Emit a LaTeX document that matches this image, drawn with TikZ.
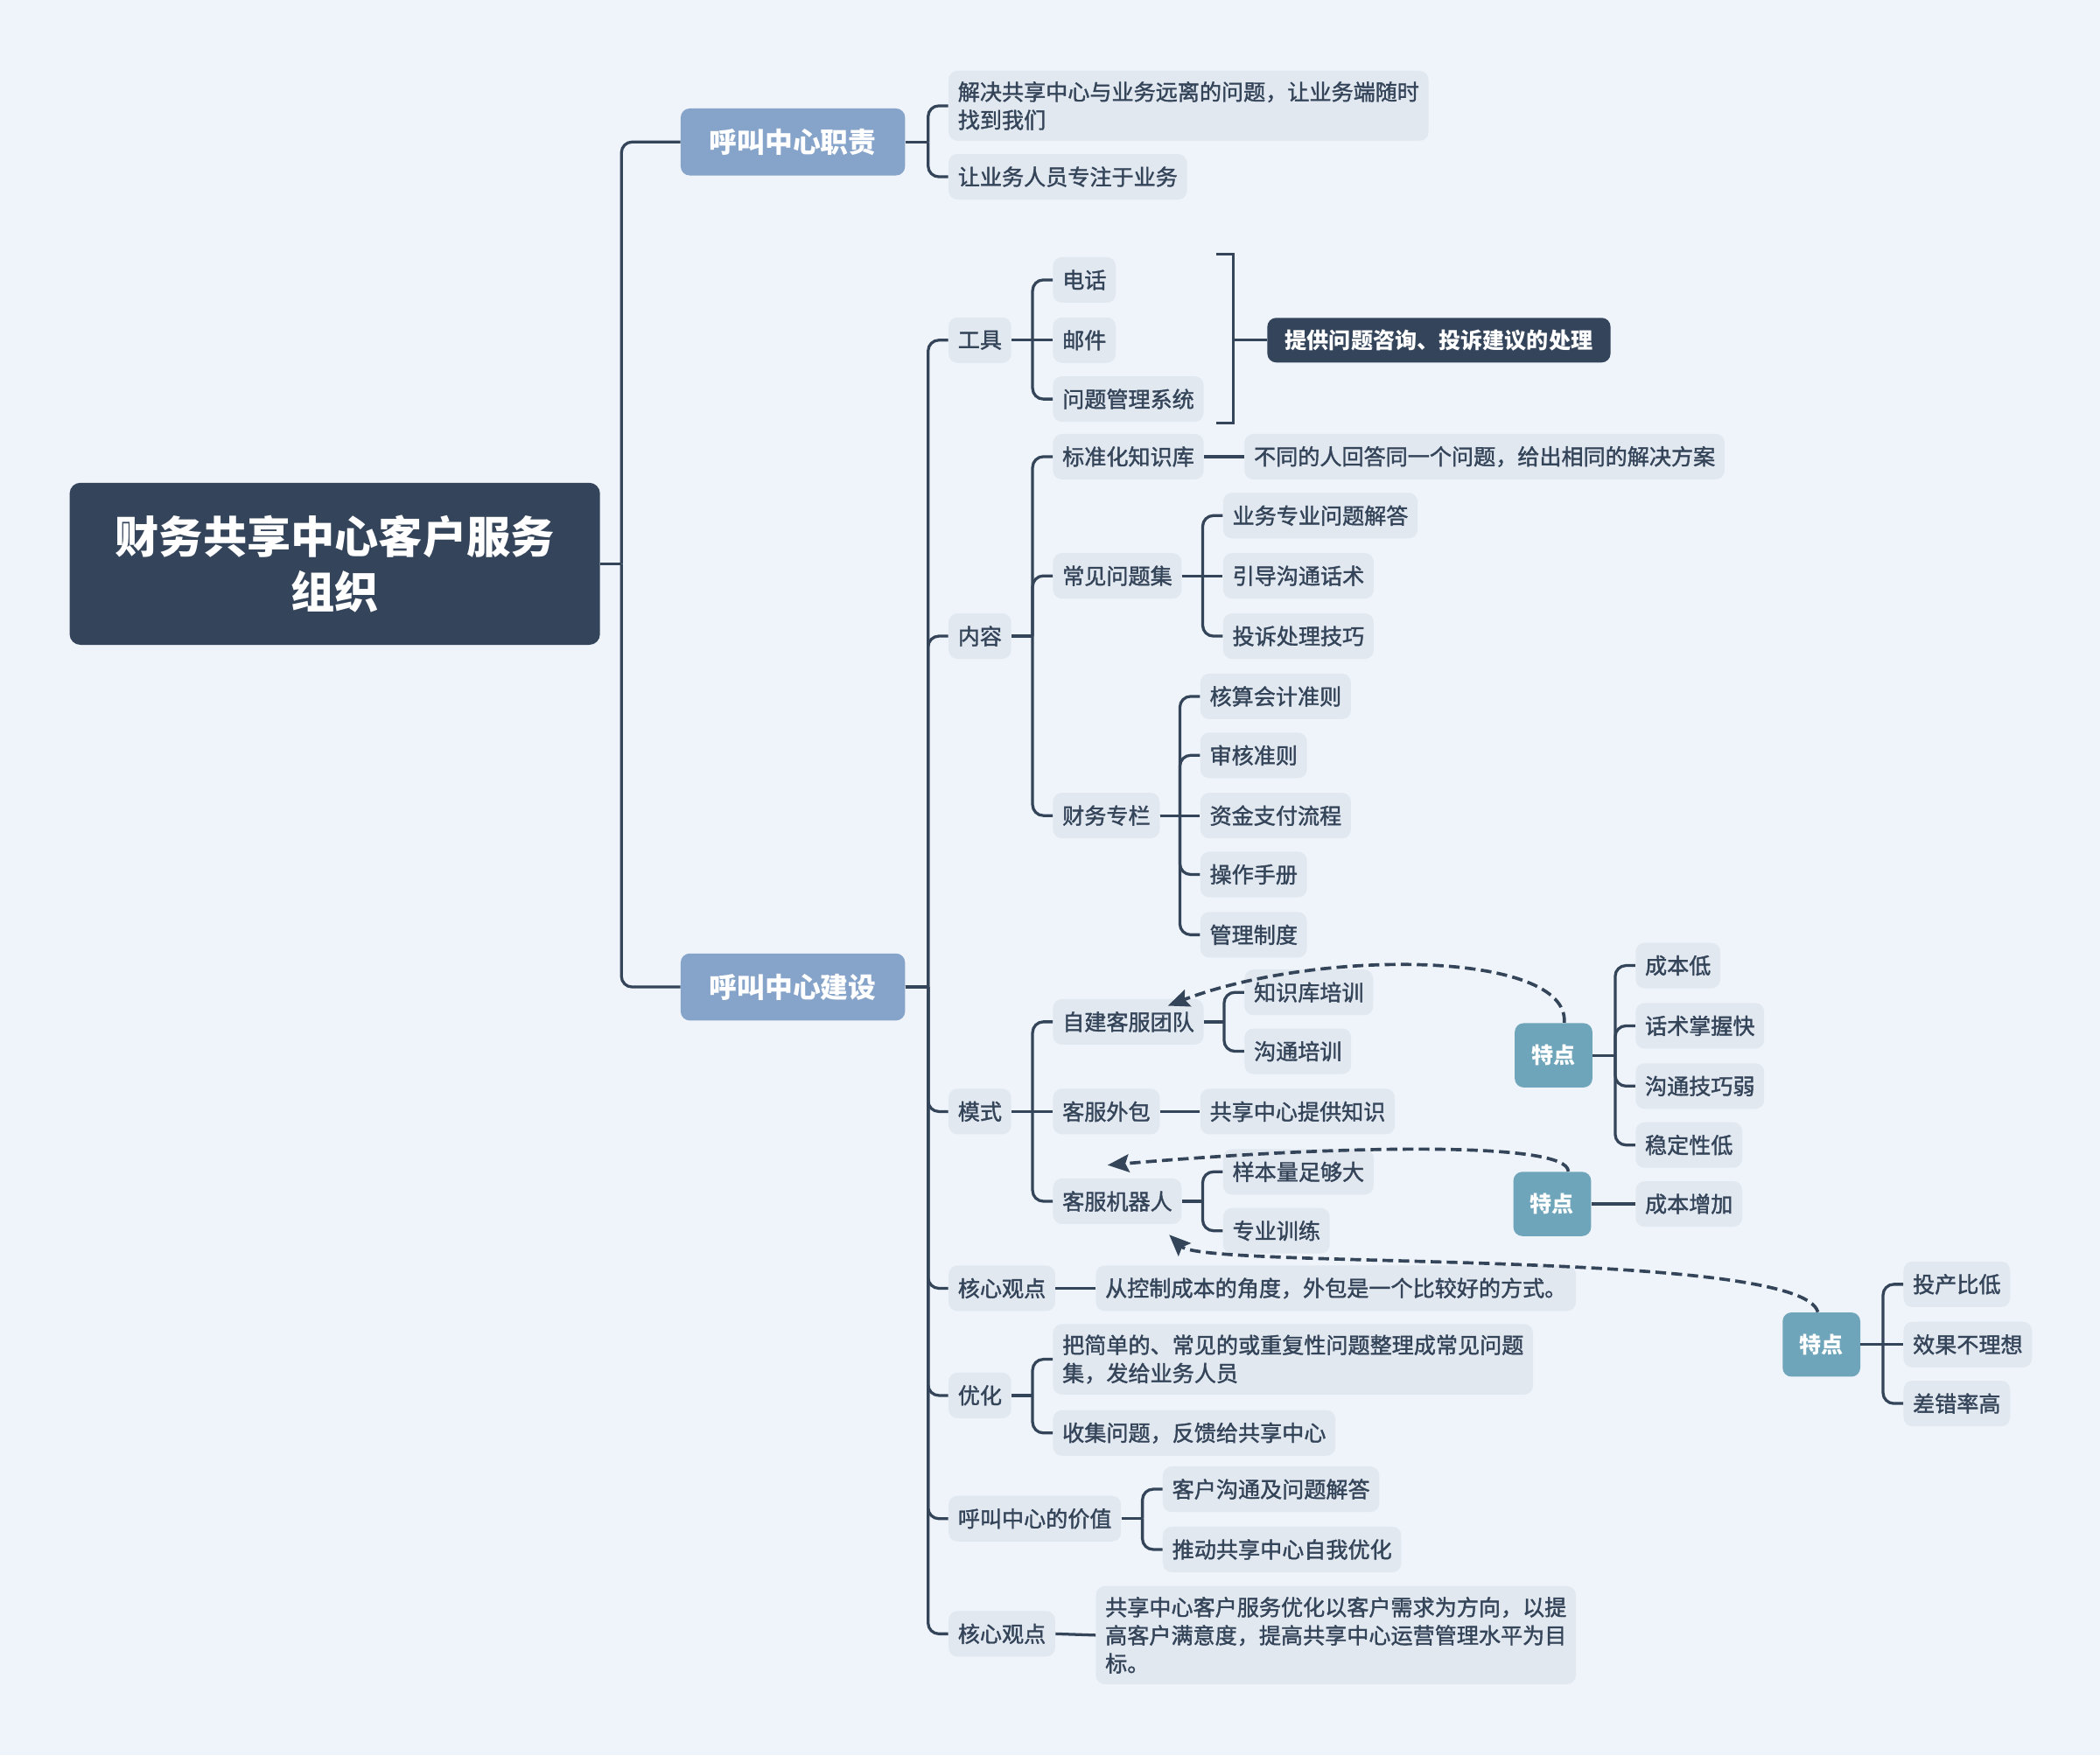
\documentclass[tikz,border=0pt]{standalone}
\usepackage{fontspec}
\setmainfont{Noto Sans CJK SC}
\newfontfamily\medfont{Noto Sans CJK SC}[RawFeature={embolden=1.5}]
\usetikzlibrary{calc,arrows.meta}
\definecolor{bgc}{HTML}{EEF4FA}
\definecolor{boxc}{HTML}{E2E8F0}
\definecolor{linec}{HTML}{344459}
\definecolor{rootc}{HTML}{34445A}
\definecolor{lvone}{HTML}{86A3C9}
\definecolor{tealc}{HTML}{6FA5BA}
\newcommand\mylink[3][15]{%
  \draw[conn] (#2.east) -- ($(#2.east -| #3.west)+(-#1,0)$);
  \draw[conn,rounded corners=6pt] ($(#2.east -| #3.west)+(-#1,0)$) |- (#3.west);}
\newcommand\mystraight[2]{\draw[conn] (#1.east) -- (#2.west);}
\begin{document}
\begin{tikzpicture}[x=0.75pt,y=-0.75pt,
  conn/.style={draw=linec,line width=1.6pt},
  leaf/.style={fill=boxc,rounded corners=5pt,text=linec,anchor=west,
    inner xsep=5.25pt,inner ysep=6pt,minimum height=25.5pt,align=left,
    font=\medfont\fontsize{12.3}{15.75}\selectfont},
  lvl/.style={fill=lvone,rounded corners=5pt,text=white,anchor=west,
    inner xsep=16pt,minimum height=37.5pt,font=\fontsize{15.6}{19}\selectfont\bfseries},
  rootbox/.style={fill=rootc,rounded corners=6pt,text=white,align=center,
    minimum width=297pt,minimum height=90.75pt,font=\fontsize{24.6}{30.75}\selectfont\bfseries},
  feat/.style={fill=tealc,rounded corners=5pt,text=white,minimum width=43.5pt,
    minimum height=36pt,inner sep=0pt,font=\fontsize{12.3}{15}\selectfont\bfseries},
  summ/.style={fill=rootc,rounded corners=5pt,text=white,anchor=west,
    inner xsep=10pt,minimum height=25pt,font=\fontsize{12.3}{15}\selectfont\bfseries},
  rel/.style={draw=linec,line width=1.8pt,dash pattern=on 6pt off 3pt,
    -{Stealth[length=12pt,width=10pt,inset=2pt]}}]
\fill[bgc] (0,0) rectangle (1568,1310.6);
\useasboundingbox (0,0) rectangle (1568,1310.6);

\node[rootbox] (root) at (250,421) {财务共享中心客户服务\\组织};
\node[lvl] (duty) at (508,106) {呼叫中心职责};
\node[lvl] (build) at (508,737) {呼叫中心建设};
\mylink[44]{root}{duty}
\mylink[44]{root}{build}

\node[leaf] (a1) at (708,79) {解决共享中心与业务远离的问题，让业务端随时\\找到我们};
\node[leaf] (a2) at (708,132) {让业务人员专注于业务};
\mylink{duty}{a1}
\mylink{duty}{a2}

\node[leaf] (tool) at (708,254) {工具};
\node[leaf] (cont) at (708,475) {内容};
\node[leaf] (mode) at (708,830) {模式};
\node[leaf] (core1) at (708,962) {核心观点};
\node[leaf] (opt) at (708,1042) {优化};
\node[leaf] (val) at (708,1134) {呼叫中心的价值};
\node[leaf] (core2) at (708,1220) {核心观点};
\foreach \c in {tool,cont,mode,core1,opt,val,core2}{\mylink{build}{\c}}

\node[leaf] (phone) at (786,209) {电话};
\node[leaf] (mail) at (786,254) {邮件};
\node[leaf] (sys) at (786,298) {问题管理系统};
\mylink{tool}{phone}
\mystraight{tool}{mail}
\mylink{tool}{sys}
\node[summ] (sum) at (946,254) {提供问题咨询、投诉建议的处理};
\coordinate (bra) at (908,190);
\coordinate (brb) at (908,316);
\coordinate (brm) at (921,254);
\draw[conn] (bra) -- ++(13,0) -- ($(brb)+(13,0)$) -- (brb);
\draw[conn] (brm) -- (sum.west);

\node[leaf] (std) at (786,341) {标准化知识库};
\node[leaf] (faq) at (786,430) {常见问题集};
\node[leaf] (fin) at (786,609) {财务专栏};
\foreach \c in {std,faq,fin}{\mylink{cont}{\c}}
\node[leaf] (stdd) at (929,341) {不同的人回答同一个问题，给出相同的解决方案};
\mystraight{std}{stdd}
\node[leaf] (f1) at (913,385) {业务专业问题解答};
\node[leaf] (f2) at (913,430) {引导沟通话术};
\node[leaf] (f3) at (913,475) {投诉处理技巧};
\mylink{faq}{f1}
\mystraight{faq}{f2}
\mylink{faq}{f3}
\node[leaf] (g1) at (896,520) {核算会计准则};
\node[leaf] (g2) at (896,564) {审核准则};
\node[leaf] (g3) at (896,609) {资金支付流程};
\node[leaf] (g4) at (896,653) {操作手册};
\node[leaf] (g5) at (896,698) {管理制度};
\foreach \c in {g1,g2,g4,g5}{\mylink{fin}{\c}}
\mystraight{fin}{g3}

\node[leaf] (self) at (786,763) {自建客服团队};
\node[leaf] (outs) at (786,830) {客服外包};
\node[leaf] (robot) at (786,897) {客服机器人};
\mylink{mode}{self}
\mystraight{mode}{outs}
\mylink{mode}{robot}
\node[leaf] (s1) at (929,741) {知识库培训};
\node[leaf] (s2) at (929,785) {沟通培训};
\mylink{self}{s1}
\mylink{self}{s2}
\node[leaf] (o1) at (896,830) {共享中心提供知识};
\mystraight{outs}{o1}
\node[leaf] (r1) at (913,875) {样本量足够大};
\node[leaf] (r2) at (913,919) {专业训练};
\mylink{robot}{r1}
\mylink{robot}{r2}

\node[feat] (te1) at (1160,788) {特点};
\node[leaf] (t11) at (1221,721) {成本低};
\node[leaf] (t12) at (1221,766) {话术掌握快};
\node[leaf] (t13) at (1221,811) {沟通技巧弱};
\node[leaf] (t14) at (1221,855) {稳定性低};
\foreach \c in {t11,t12,t13,t14}{\mylink{te1}{\c}}
\node[feat] (te2) at (1159,899) {特点};
\node[leaf] (t21) at (1221,899) {成本增加};
\mystraight{te2}{t21}
\node[feat] (te3) at (1360,1004) {特点};
\node[leaf] (t31) at (1421,959) {投产比低};
\node[leaf] (t32) at (1421,1004) {效果不理想};
\node[leaf] (t33) at (1421,1048) {差错率高};
\mylink{te3}{t31}
\mystraight{te3}{t32}
\mylink{te3}{t33}

\node[leaf] (c1) at (818,962) {从控制成本的角度，外包是一个比较好的方式。};
\mystraight{core1}{c1}
\node[leaf] (p1) at (786,1015) {把简单的、常见的或重复性问题整理成常见问题\\集，发给业务人员};
\node[leaf] (p2) at (786,1070) {收集问题，反馈给共享中心};
\mylink{opt}{p1}
\mylink{opt}{p2}
\node[leaf] (v1) at (868,1112) {客户沟通及问题解答};
\node[leaf] (v2) at (868,1157) {推动共享中心自我优化};
\mylink{val}{v1}
\mylink{val}{v2}
\node[leaf] (c2) at (818,1221) {共享中心客户服务优化以客户需求为方向，以提\\高客户满意度，提高共享中心运营管理水平为目\\标。};
\mystraight{core2}{c2}

\coordinate (e1) at (872,751);
\coordinate (e2) at (827,870);
\coordinate (e3) at (873,922);
\draw[rel] ([xshift=6pt]te1.north) .. controls (1172,710) and (985,708) .. (e1);
\draw[rel] ([xshift=9pt]te2.north) .. controls (1171,852) and (1000,855) .. (e2);
\draw[rel] ([xshift=-2pt]te3.north) .. controls (1345,932) and (900,948) .. (e3);
\end{tikzpicture}
\end{document}
